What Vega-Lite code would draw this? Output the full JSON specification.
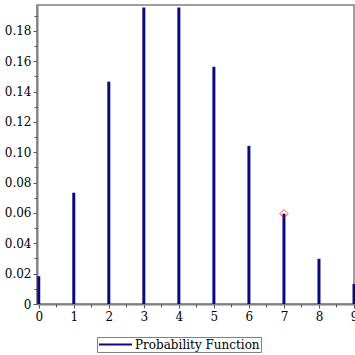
{
  "$schema": "https://vega.github.io/schema/vega-lite/v6.json",
  "autosize": "none",
  "width": 317,
  "height": 299,
  "padding": {"left": 37, "top": 5, "right": 1, "bottom": 51},
  "background": "white",
  "config": {
    "font": "DejaVu Serif",
    "view": {"stroke": "#808080", "strokeWidth": 1.5},
    "axis": {"labelFont": "DejaVu Serif", "labelFontSize": 12, "labelColor": "black", "domainColor": "#808080", "domainWidth": 2, "tickColor": "#555555", "grid": false, "title": null, "labelOverlap": false, "tickCount": 40}
  },
  "data": {"values": [
    {"k": 0, "p": 0.0183, "s": "Probability Function"},
    {"k": 1, "p": 0.0733, "s": "Probability Function"},
    {"k": 2, "p": 0.1465, "s": "Probability Function"},
    {"k": 3, "p": 0.1954, "s": "Probability Function"},
    {"k": 4, "p": 0.1954, "s": "Probability Function"},
    {"k": 5, "p": 0.1563, "s": "Probability Function"},
    {"k": 6, "p": 0.1042, "s": "Probability Function"},
    {"k": 7, "p": 0.0595, "s": "Probability Function"},
    {"k": 8, "p": 0.0298, "s": "Probability Function"},
    {"k": 9, "p": 0.0132, "s": "Probability Function"}
  ]},
  "resolve": {"axis": {"x": "independent", "y": "independent"}},
  "layer": [
    {
      "mark": {"type": "rule", "strokeWidth": 3},
      "encoding": {
        "x": {"field": "k", "type": "quantitative", "scale": {"domain": [-0.05, 9], "nice": false, "zero": false},
              "axis": {"orient": "bottom", "values": [0,1,2,3,4,5,6,7,8,9], "tickCount": 40, "format": "d", "tickSize": 4, "labelPadding": 3, "labelOverlap": false, "labelFlush": false}},
        "y": {"field": "p", "type": "quantitative", "scale": {"domain": [0, 0.197], "nice": false},
              "axis": {"orient": "left", "values": [0,0.02,0.04,0.06,0.08,0.1,0.12,0.14,0.16,0.18], "tickCount": 40, "format": ".2f", "tickSize": 4, "labelPadding": 2, "labelOverlap": false, "labelFlush": false, "labelExpr": "datum.value == 0 ? '0' : datum.label"}},
        "y2": {"datum": 0},
        "color": {"field": "s", "type": "nominal", "scale": {"range": ["#0a0a80"]},
                  "legend": {"title": null, "orient": "none", "legendX": 60, "legendY": 332, "symbolType": "stroke", "symbolSize": 1089, "symbolStrokeWidth": 2, "symbolStrokeColor": "#2a2a90", "clipHeight": 13, "strokeColor": "#808080", "padding": 1, "labelFont": "DejaVu Serif", "labelFontSize": 12, "labelColor": "black", "labelOffset": 2, "cornerRadius": 0}}
      }
    },
    {
      "mark": {"type": "point", "opacity": 0},
      "encoding": {
        "x": {"field": "k", "type": "quantitative",
              "axis": {"orient": "bottom", "values": [0.5,1.5,2.5,3.5,4.5,5.5,6.5,7.5,8.5], "tickCount": 40, "labels": false, "domain": false, "tickSize": 3}},
        "y": {"field": "p", "type": "quantitative",
              "axis": {"orient": "left", "values": [0.01,0.03,0.05,0.07,0.09,0.11,0.13,0.15,0.17,0.19], "tickCount": 40, "labels": false, "domain": false, "tickSize": 3}}
      }
    },
    {
      "transform": [{"filter": "datum.k == 7"}],
      "mark": {"type": "point", "shape": "diamond", "size": 70, "color": "red", "strokeWidth": 1, "filled": false},
      "encoding": {
        "x": {"field": "k", "type": "quantitative", "axis": null},
        "y": {"field": "p", "type": "quantitative", "axis": null}
      }
    }
  ]
}
